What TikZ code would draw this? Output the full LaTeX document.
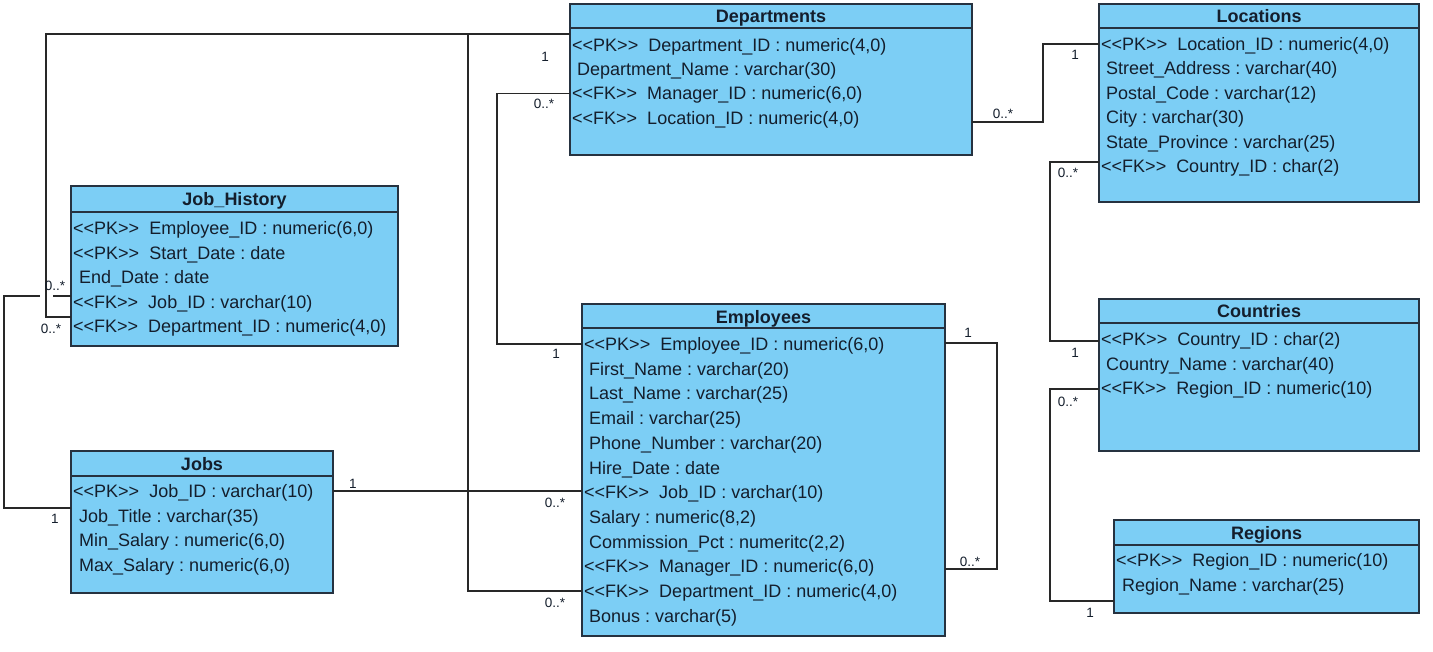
\documentclass[tikz,border=0pt]{standalone}
\usepackage{fontspec}
\newfontfamily\ermfont{Liberation Sans}
\usetikzlibrary{calc}
\definecolor{boxc}{RGB}{124,206,245}
\definecolor{bordc}{RGB}{38,50,64}
\definecolor{txtc}{RGB}{20,30,44}
\definecolor{linec}{RGB}{40,40,40}
\tikzset{
  tbl/.style={draw=bordc, fill=boxc, line width=1.3pt, anchor=north west, inner sep=0pt, outer sep=0pt},
  hdr/.style={draw=bordc, line width=1.3pt},
  ttl/.style={font=\ermfont\bfseries\fontsize{18}{21}\selectfont, text=txtc, inner sep=0pt, anchor=base},
  row/.style={font=\ermfont\fontsize{18}{21}\selectfont\frenchspacing, text=txtc, anchor=west, inner sep=0pt, text height=13pt, text depth=0pt},
  mult/.style={font=\ermfont\fontsize{13.5}{16}\selectfont, text=txtc, inner sep=0pt},
  conn/.style={draw=linec, line width=1.4pt},
}
\newcommand{\PKk}{<{}<PK>{}>\ \ }
\newcommand{\FKk}{<{}<FK>{}>\ \ }
\begin{document}
\begin{tikzpicture}[x=1pt,y=-1pt]
\useasboundingbox (0,0) rectangle (1433,651);
\fill[white] (0,0) rectangle (1433,651);

% ---------- Tables ----------
% Departments
\node[tbl, minimum width=402pt, minimum height=151pt] (dept) at (570,4) {};
\draw[hdr] ([yshift=-24pt]dept.north west) -- ([yshift=-24pt]dept.north east);
\node[ttl] (deptT) at ([yshift=-18.5pt]dept.north) {Departments};
\node[row] (d1) at (572,45) {\PKk Department\_ID : numeric(4,0)};
\node[row] (d2) at (577,69.2) {Department\_Name : varchar(30)};
\node[row] (d3) at (572,93.4) {\FKk Manager\_ID : numeric(6,0)};
\node[row] (d4) at (572,117.6) {\FKk Location\_ID : numeric(4,0)};

% Locations
\node[tbl, minimum width=320pt, minimum height=198pt] (loc) at (1099,4) {};
\draw[hdr] ([yshift=-24pt]loc.north west) -- ([yshift=-24pt]loc.north east);
\node[ttl] (locT) at ([yshift=-18.5pt]loc.north) {Locations};
\node[row] (l1) at (1101,44) {\PKk Location\_ID : numeric(4,0)};
\node[row] (l2) at (1106,68.4) {Street\_Address : varchar(40)};
\node[row] (l3) at (1106,92.8) {Postal\_Code : varchar(12)};
\node[row] (l4) at (1106,117.2) {City : varchar(30)};
\node[row] (l5) at (1106,141.6) {State\_Province : varchar(25)};
\node[row] (l6) at (1101,166) {\FKk Country\_ID : char(2)};

% Job_History
\node[tbl, minimum width=327pt, minimum height=160pt] (jh) at (71,186) {};
\draw[hdr] ([yshift=-26pt]jh.north west) -- ([yshift=-26pt]jh.north east);
\node[ttl] (jhT) at ([yshift=-19.5pt]jh.north) {Job\_History};
\node[row] (jh1) at (73,228) {\PKk Employee\_ID : numeric(6,0)};
\node[row] (jh2) at (73,252.5) {\PKk Start\_Date : date};
\node[row] (jh3) at (79,277) {End\_Date : date};
\node[row] (jh4) at (73,301.5) {\FKk Job\_ID : varchar(10)};
\node[row] (jh5) at (73,326) {\FKk Department\_ID : numeric(4,0)};

% Jobs
\node[tbl, minimum width=262pt, minimum height=142pt] (jobs) at (71,451) {};
\draw[hdr] ([yshift=-25pt]jobs.north west) -- ([yshift=-25pt]jobs.north east);
\node[ttl] (jobsT) at ([yshift=-19pt]jobs.north) {Jobs};
\node[row] (j1) at (73,491) {\PKk Job\_ID : varchar(10)};
\node[row] (j2) at (79,515.5) {Job\_Title : varchar(35)};
\node[row] (j3) at (79,540) {Min\_Salary : numeric(6,0)};
\node[row] (j4) at (79,564.5) {Max\_Salary : numeric(6,0)};

% Employees
\node[tbl, minimum width=363pt, minimum height=332pt] (emp) at (582,304) {};
\draw[hdr] ([yshift=-24pt]emp.north west) -- ([yshift=-24pt]emp.north east);
\node[ttl] (empT) at ([yshift=-19pt]emp.north) {Employees};
\node[row] (e1) at (584,344) {\PKk Employee\_ID : numeric(6,0)};
\node[row] (e2) at (589,368.7) {First\_Name : varchar(20)};
\node[row] (e3) at (589,393.4) {Last\_Name : varchar(25)};
\node[row] (e4) at (589,418.1) {Email : varchar(25)};
\node[row] (e5) at (589,442.8) {Phone\_Number : varchar(20)};
\node[row] (e6) at (589,467.5) {Hire\_Date : date};
\node[row] (e7) at (584,492.2) {\FKk Job\_ID : varchar(10)};
\node[row] (e8) at (589,516.9) {Salary : numeric(8,2)};
\node[row] (e9) at (589,541.6) {Commission\_Pct : numeritc(2,2)};
\node[row] (e10) at (584,566.3) {\FKk Manager\_ID : numeric(6,0)};
\node[row] (e11) at (584,591) {\FKk Department\_ID : numeric(4,0)};
\node[row] (e12) at (589,615.7) {Bonus : varchar(5)};

% Countries
\node[tbl, minimum width=320pt, minimum height=152pt] (cty) at (1099,299) {};
\draw[hdr] ([yshift=-24pt]cty.north west) -- ([yshift=-24pt]cty.north east);
\node[ttl] (ctyT) at ([yshift=-18.5pt]cty.north) {Countries};
\node[row] (c1) at (1101,339) {\PKk Country\_ID : char(2)};
\node[row] (c2) at (1106,363.5) {Country\_Name : varchar(40)};
\node[row] (c3) at (1101,388) {\FKk Region\_ID : numeric(10)};

% Regions
\node[tbl, minimum width=305pt, minimum height=93pt] (reg) at (1114,520) {};
\draw[hdr] ([yshift=-25pt]reg.north west) -- ([yshift=-25pt]reg.north east);
\node[ttl] (regT) at ([yshift=-19pt]reg.north) {Regions};
\node[row] (r1) at (1116,560) {\PKk Region\_ID : numeric(10)};
\node[row] (r2) at (1122,584.5) {Region\_Name : varchar(25)};

% ---------- Connectors ----------
% Jobs -> Job_History (Job_ID)
\draw[conn] ($(jobs.north west)+(0,57)$) -| (4,296) -- ($(jh.north west)+(0,110)$);
% line jump gap
\draw[white, line width=4pt] (40,296) -- (53,296);
% Departments -> Job_History (Department_ID)
\draw[conn] ($(dept.north west)+(0,30)$) -| (46,317) -- ($(jh.north west)+(0,131)$);
% Departments -> Employees (Department_ID)
\draw[conn] ($(dept.north west)+(0,30)$) -| (468,591) -- (e11.west -| emp.west);
% Employees -> Departments (Manager_ID)
\draw[conn] (d3.west -| dept.west) -| (497,344) -- (e1.west -| emp.west);
% Departments -> Locations
\draw[conn] ($(dept.north east)+(0,118)$) -| (1043,44) -- (l1.west -| loc.west);
% Locations -> Countries
\draw[conn] ($(loc.north west)+(0,158)$) -| (1050,341) -- ($(cty.north west)+(0,42)$);
% Countries -> Regions
\draw[conn] ($(cty.north west)+(0,90)$) -| (1050,601) -- ($(reg.north west)+(0,81)$);
% Employees self (Manager_ID)
\draw[conn] ($(emp.north east)+(0,39)$) -| (997,569) -- ($(emp.north east)+(0,265)$);
% Jobs -> Employees (Job_ID)
\draw[conn] (j1.west -| jobs.east) -- (j1.west -| emp.west);

% ---------- Multiplicities ----------
\node[mult] (m1) at (545,57) {1};
\node[mult] (m2) at (544,104) {0..*};
\node[mult] (m3) at (556,354) {1};
\node[mult] (m4) at (555,503) {0..*};
\node[mult] (m5) at (555,603) {0..*};
\node[mult] (m6) at (353,484) {1};
\node[mult] (m7) at (55,519) {1};
\node[mult] (m8) at (55,286) {0..*};
\node[mult] (m9) at (51,329) {0..*};
\node[mult] (m10) at (968,333) {1};
\node[mult] (m11) at (970,562) {0..*};
\node[mult] (m12) at (1003,114) {0..*};
\node[mult] (m13) at (1075,55) {1};
\node[mult] (m14) at (1068,173) {0..*};
\node[mult] (m15) at (1075,353) {1};
\node[mult] (m16) at (1068,402) {0..*};
\node[mult] (m17) at (1090,613) {1};
\end{tikzpicture}
\end{document}
